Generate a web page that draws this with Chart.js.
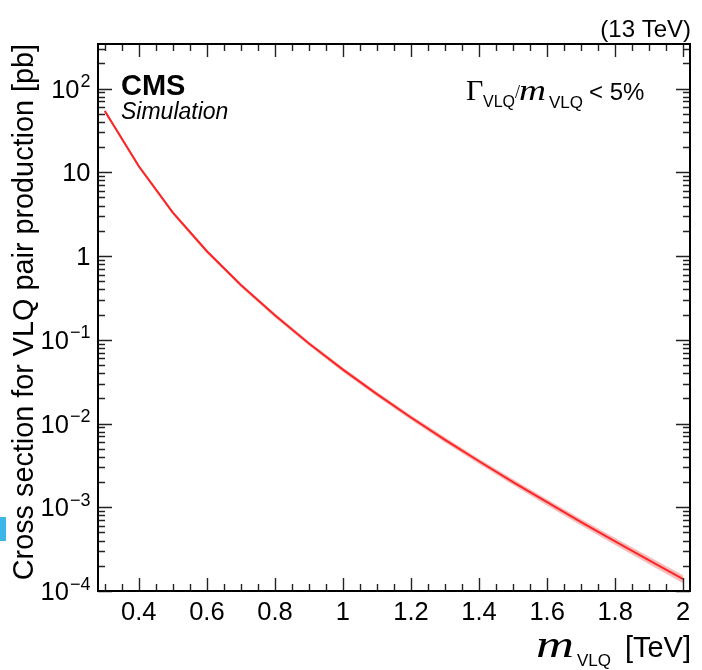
<!DOCTYPE html>
<html>
<head>
<meta charset="utf-8">
<script src="https://cdn.jsdelivr.net/npm/chart.js@4/dist/chart.umd.min.js"></script>
<style>
  html, body { margin: 0; padding: 0; background: #fff; }
  #wrap { position: relative; width: 702px; height: 670px; }
  #c { display: block; }
  #blue { position: absolute; left: 0; top: 517px; width: 6px; height: 24px; background: #3cb6e8; }
</style>
</head>
<body>
<div id="wrap">
  <canvas id="c" width="702" height="670"></canvas>
  <div id="blue"></div>
</div>
<script>
// ---- data ----
const massTeV = [0.3, 0.4, 0.5, 0.6, 0.7, 0.8, 0.9, 1.0, 1.1, 1.2, 1.3, 1.4, 1.5, 1.6, 1.7, 1.8, 1.9, 2.0];
const xsecPb  = [54, 11.8, 3.3, 1.14, 0.450, 0.196, 0.0903, 0.0440, 0.0224, 0.0118, 0.00639, 0.00354, 0.00200, 0.001148, 0.000666, 0.000391, 0.000232, 0.000139];
const xsecUp  = [56.5, 12.4, 3.46, 1.20, 0.474, 0.207, 0.0955, 0.0467, 0.0238, 0.01257, 0.00683, 0.00380, 0.00216, 0.001245, 0.000726, 0.000429, 0.000256, 0.000154];
const xsecDn  = [51.5, 11.2, 3.14, 1.08, 0.426, 0.185, 0.0851, 0.0413, 0.0210, 0.01103, 0.00595, 0.00328, 0.00184, 0.001051, 0.000606, 0.000353, 0.000208, 0.000124];
const xTickLabels = ["0.4", "0.6", "0.8", "1", "1.2", "1.4", "1.6", "1.8", "2"];
const xTickValues = [0.4, 0.6, 0.8, 1.0, 1.2, 1.4, 1.6, 1.8, 2.0];
const yTickValues = [1e-4, 1e-3, 1e-2, 1e-1, 1, 10, 100];
const yTickLabels = [["10", "\u22124"], ["10", "\u22123"], ["10", "\u22122"], ["10", "\u22121"], ["1", ""], ["10", ""], ["10", "2"]];
const xMin = 0.28, xMax = 2.02, yMin = 1e-4, yMax = 340;

const pts = (ys) => massTeV.map((m, i) => ({ x: m, y: ys[i] }));

const SANS = '"Liberation Sans", Arial, Helvetica, sans-serif';
const SERIF = '"Liberation Serif", "Times New Roman", serif';

const decor = {
  id: 'decor',
  afterDraw(chart) {
    const ctx = chart.ctx;
    const a = chart.chartArea;
    const xs = chart.scales.x, ys = chart.scales.y;
    ctx.save();
    // ticks
    ctx.strokeStyle = '#222';
    ctx.lineWidth = 1.4;
    const xMajLen = 13, xMinLen = 7, yMajLen = 14, yMinLen = 7;
    ctx.beginPath();
    for (let k = 0; k * 0.05 + 0.3 <= xMax + 1e-9; k++) {
      const v = 0.3 + k * 0.05;
      if (v < xMin) continue;
      const px = Math.round(xs.getPixelForValue(v)) + 0.5;
      const major = xTickValues.some(t => Math.abs(t - v) < 1e-6);
      const L = major ? xMajLen : xMinLen;
      ctx.moveTo(px, a.bottom); ctx.lineTo(px, a.bottom - L);
      ctx.moveTo(px, a.top); ctx.lineTo(px, a.top + L);
    }
    for (let d = -4; d <= 2; d++) {
      for (let m = 1; m <= 9; m++) {
        const v = m * Math.pow(10, d);
        if (v < yMin * 0.999 || v > yMax) continue;
        const py = Math.round(ys.getPixelForValue(v)) + 0.5;
        const L = m === 1 ? yMajLen : yMinLen;
        ctx.moveTo(a.left, py); ctx.lineTo(a.left + L, py);
        ctx.moveTo(a.right, py); ctx.lineTo(a.right - L, py);
      }
    }
    ctx.stroke();
    // frame
    ctx.strokeStyle = '#000';
    ctx.lineWidth = 2;
    ctx.strokeRect(a.left, a.top, a.right - a.left, a.bottom - a.top);

    ctx.fillStyle = '#000';
    // x tick labels
    ctx.font = '25.5px ' + SANS;
    ctx.textAlign = 'center';
    ctx.textBaseline = 'alphabetic';
    xTickValues.forEach((v, i) => {
      ctx.fillText(xTickLabels[i], xs.getPixelForValue(v), a.bottom + 28.5);
    });
    // y tick labels
    yTickValues.forEach((v, i) => {
      const py = ys.getPixelForValue(v);
      const [base, exp] = yTickLabels[i];
      const right = a.left - 7.5;
      ctx.textAlign = 'left';
      ctx.font = '18px ' + SANS;
      const we = exp ? ctx.measureText(exp).width + 1 : 0;
      ctx.font = '25.5px ' + SANS;
      const wb = ctx.measureText(base).width;
      const x0 = right - we - wb;
      ctx.fillText(base, x0, py + 9);
      if (exp) {
        ctx.font = '18px ' + SANS;
        ctx.fillText(exp, x0 + wb + 1, py - 1.5);
      }
    });
    // y title
    ctx.save();
    ctx.translate(33, a.top);
    ctx.rotate(-Math.PI / 2);
    ctx.font = '28.8px ' + SANS;
    ctx.textAlign = 'right';
    ctx.fillText('Cross section for VLQ pair production [pb]', 0, 0);
    ctx.restore();

    // helper: stretched serif italic m
    function drawM(x, y, size, width) {
      ctx.save();
      ctx.font = 'italic ' + size + 'px ' + SERIF;
      ctx.textAlign = 'left';
      const w = ctx.measureText('m').width;
      ctx.translate(x, y);
      ctx.scale(width / w, 1);
      ctx.fillText('m', 0, 0);
      ctx.restore();
    }
    // x title
    ctx.textAlign = 'right';
    ctx.font = '29px ' + SANS;
    ctx.fillText('[TeV]', 691, 657);
    ctx.textAlign = 'left';
    ctx.font = '17px ' + SANS;
    ctx.fillText('VLQ', 577, 665.5);
    drawM(536, 657, 38, 38);

    // CMS label
    ctx.textAlign = 'left';
    ctx.font = 'bold 29px ' + SANS;
    ctx.fillText('CMS', 121, 95);
    ctx.font = 'italic 23px ' + SANS;
    ctx.fillText('Simulation', 121, 119);

    // (13 TeV)
    ctx.textAlign = 'right';
    ctx.font = '24px ' + SANS;
    ctx.fillText('(13 TeV)', 691, 37);

    // Gamma / m < 5%
    ctx.textAlign = 'left';
    ctx.font = '30px ' + SERIF;
    ctx.fillText('\u0393', 466, 99.5);
    ctx.font = '16px ' + SANS;
    ctx.fillText('VLQ', 483, 106.5);
    ctx.font = '18px ' + SERIF;
    ctx.fillText('/', 515, 97.5);
    drawM(519, 99.5, 29, 27);
    ctx.font = '17px ' + SANS;
    ctx.fillText('VLQ', 549, 107.5);
    ctx.font = '24px ' + SANS;
    ctx.fillText('< 5%', 589, 99.5);
    ctx.restore();
  }
};

new Chart(document.getElementById('c'), {
  type: 'line',
  data: {
    datasets: [
      { label: 'up', data: pts(xsecUp), borderWidth: 0, pointRadius: 0, fill: '+1', backgroundColor: 'rgba(240,90,90,0.42)', borderColor: 'rgba(0,0,0,0)', tension: 0 },
      { label: 'down', data: pts(xsecDn), borderWidth: 0, pointRadius: 0, fill: false, borderColor: 'rgba(0,0,0,0)', tension: 0 },
      { label: 'xsec', data: pts(xsecPb), borderWidth: 2, pointRadius: 0, fill: false, borderColor: '#ff0000', tension: 0 }
    ]
  },
  options: {
    responsive: false,
    animation: false,
    devicePixelRatio: 1,
    layout: { padding: { left: 98, top: 44, right: 12, bottom: 79 } },
    plugins: { legend: { display: false }, tooltip: { enabled: false } },
    scales: {
      x: { type: 'linear', min: xMin, max: xMax, display: false },
      y: { type: 'logarithmic', min: yMin, max: yMax, display: false }
    }
  },
  plugins: [decor]
});
</script>
</body>
</html>
